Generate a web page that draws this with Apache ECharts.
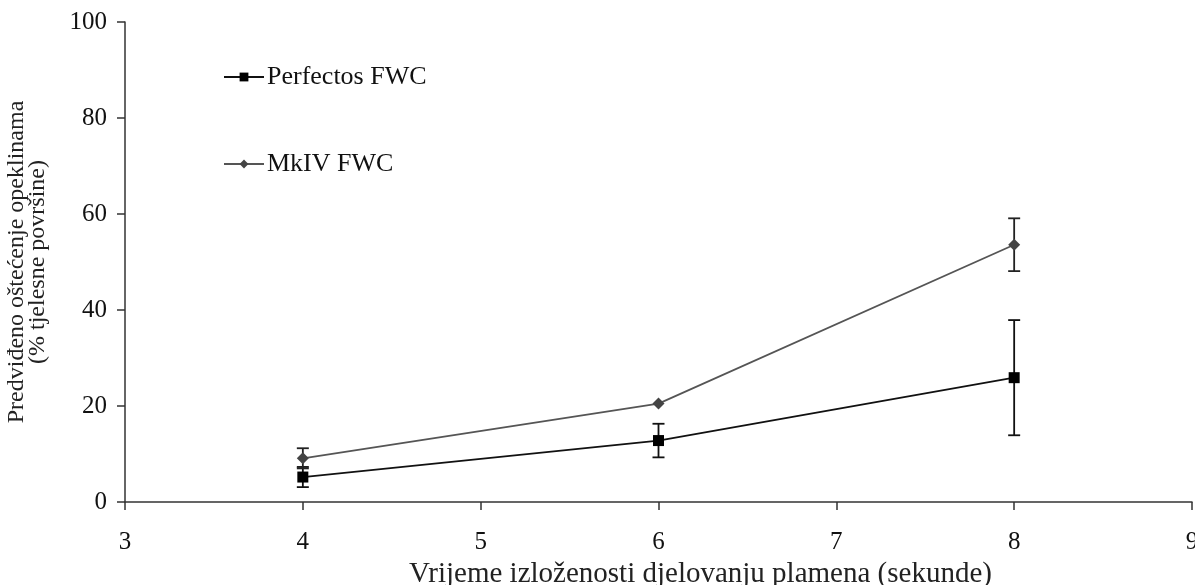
<!DOCTYPE html>
<html><head><meta charset="utf-8">
<script src="https://cdn.jsdelivr.net/npm/echarts@6/dist/echarts.min.js"></script>
<style>html,body{margin:0;padding:0;background:#fff}#c{width:1195px;height:585px}</style>
</head><body><div id="c"></div>
<script>
var times = [4, 6, 8];
var perfectos = [5.2, 12.8, 25.9];
var perfectosErr = [2.1, 3.5, 12.0];
var mkiv = [9.1, 20.5, 53.6];
var mkivErr = [2.1, 0.0, 5.5];
var xTicks = [3, 4, 5, 6, 7, 8, 9];
var yTicks = [0, 20, 40, 60, 80, 100];

var F = '"Liberation Serif", "DejaVu Serif", serif';

function errData(vals, errs) {
  return times.map(function (t, i) { return [t, vals[i] - errs[i], vals[i] + errs[i]]; });
}
function errRender(color) {
  return function (params, api) {
    var x = api.value(0), lo = api.value(1), hi = api.value(2);
    if (hi - lo <= 0) return null;
    var pLo = api.coord([x, lo]), pHi = api.coord([x, hi]);
    var w = 6;
    var st = { stroke: color, lineWidth: 1.8 };
    return { type: 'group', children: [
      { type: 'line', shape: { x1: pLo[0], y1: pLo[1], x2: pHi[0], y2: pHi[1] }, style: st },
      { type: 'line', shape: { x1: pLo[0] - w, y1: pLo[1], x2: pLo[0] + w, y2: pLo[1] }, style: st },
      { type: 'line', shape: { x1: pHi[0] - w, y1: pHi[1], x2: pHi[0] + w, y2: pHi[1] }, style: st }
    ]};
  };
}

var chart = echarts.init(document.getElementById('c'));
chart.setOption({
  animation: false,
  grid: { left: 125, right: 3, top: 22, bottom: 83, containLabel: false, outerBoundsMode: 'none' },
  legend: {
    orient: 'vertical', left: 218, top: 59, itemGap: 61,
    itemWidth: 40, itemHeight: 11,
    textStyle: { fontFamily: F, fontSize: 26, lineHeight: 26, color: '#111', padding: [0, 0, 0, -2] },
    data: ['Perfectos FWC', 'MkIV FWC']
  },
  xAxis: {
    type: 'value', min: 3, max: 9, interval: 1,
    name: 'Vrijeme izloženosti djelovanju plamena (sekunde)',
    nameLocation: 'middle', nameGap: 58,
    nameTextStyle: { fontFamily: F, fontSize: 29, color: '#222', padding: [0, 0, 0, 84] },
    axisLine: { show: true, onZero: false, lineStyle: { color: '#333', width: 1.5 } },
    axisTick: { show: true, length: 8, lineStyle: { color: '#333', width: 1.5 } },
    axisLabel: { fontFamily: F, fontSize: 25, color: '#111', margin: 28 },
    splitLine: { show: false }
  },
  yAxis: {
    type: 'value', min: 0, max: 100, interval: 20,
    name: 'Predviđeno oštećenje opeklinama\n(% tjelesne površine)',
    nameLocation: 'middle', nameGap: 77, nameRotate: 90,
    nameTextStyle: { fontFamily: F, fontSize: 24, color: '#222', lineHeight: 21 },
    axisLine: { show: true, lineStyle: { color: '#333', width: 1.5 } },
    axisTick: { show: true, length: 8, lineStyle: { color: '#333', width: 1.5 } },
    axisLabel: { fontFamily: F, fontSize: 25, color: '#111', margin: 18 },
    splitLine: { show: false }
  },
  series: [
    {
      name: 'Perfectos FWC', type: 'line',
      data: times.map(function (t, i) { return [t, perfectos[i]]; }),
      symbol: 'rect', symbolSize: 11,
      lineStyle: { color: '#111', width: 1.8 },
      itemStyle: { color: '#000' }, z: 3
    },
    {
      name: 'MkIV FWC', type: 'line',
      data: times.map(function (t, i) { return [t, mkiv[i]]; }),
      symbol: 'diamond', symbolSize: 12,
      lineStyle: { color: '#555', width: 1.8 },
      itemStyle: { color: '#444' }, z: 3
    },
    {
      type: 'custom', name: 'errP', renderItem: errRender('#111'),
      data: errData(perfectos, perfectosErr), encode: { x: 0, y: [1, 2] }, z: 2, silent: true
    },
    {
      type: 'custom', name: 'errM', renderItem: errRender('#222'),
      data: errData(mkiv, mkivErr), encode: { x: 0, y: [1, 2] }, z: 2, silent: true
    }
  ]
});
</script></body></html>
